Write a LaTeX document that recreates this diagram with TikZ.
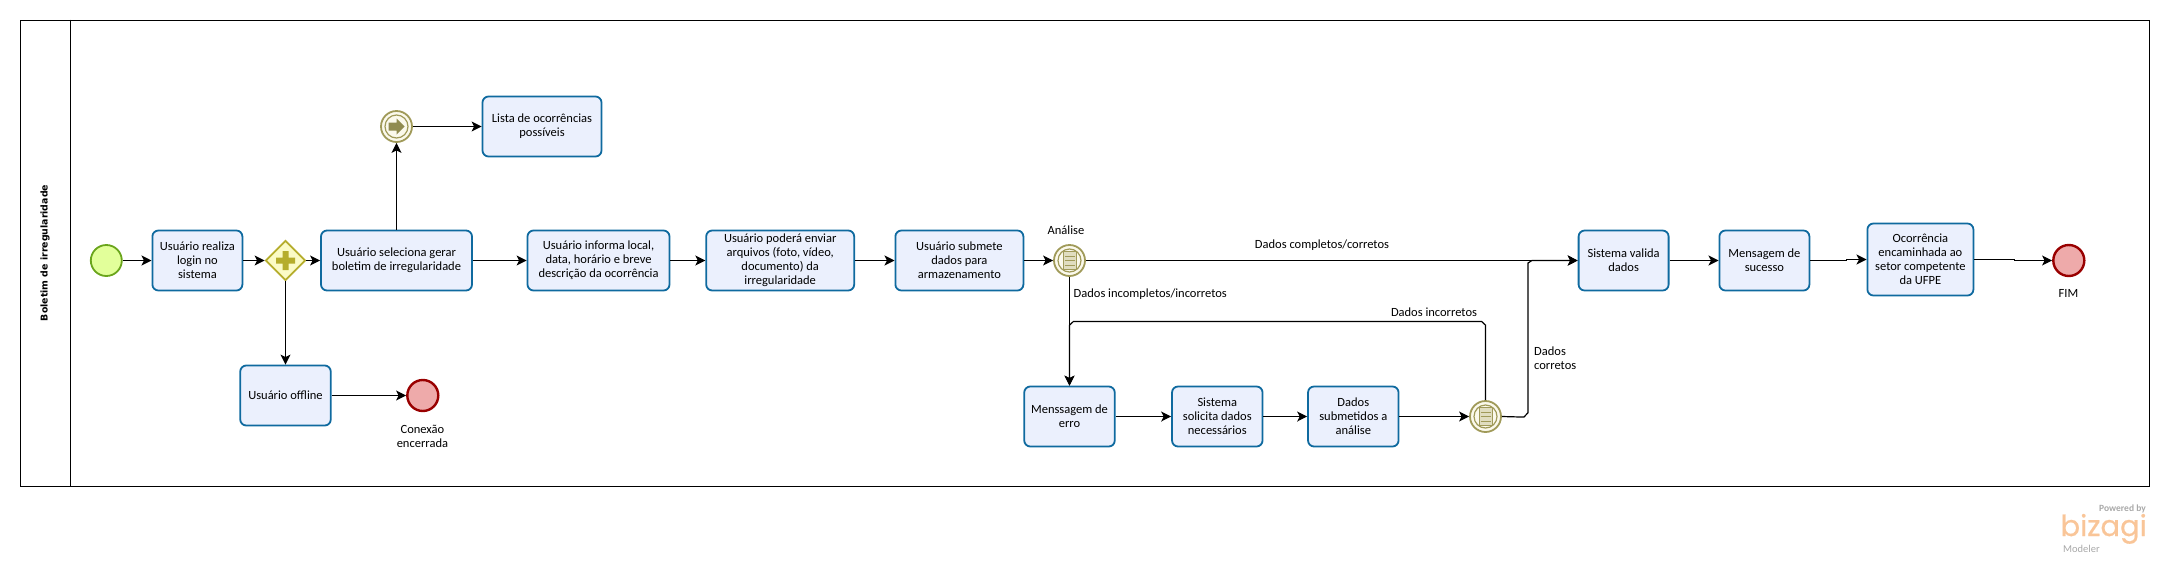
\documentclass[tikz,border=0pt]{standalone}
\usepackage{fontspec}
\setmainfont{Carlito}
\newfontfamily\titlefont{DejaVu Sans}
\newfontfamily\logofont[FakeBold=0.6]{Poppins}
\usetikzlibrary{shapes.geometric}
\usetikzlibrary{arrows.meta}
\definecolor{taskline}{HTML}{0F6A9F}
\definecolor{taskfill}{HTML}{EBF0FD}
\definecolor{startline}{HTML}{6AA51C}
\definecolor{startfill}{HTML}{E2FF9A}
\definecolor{endline}{HTML}{990000}
\definecolor{endfill}{HTML}{EEAAAA}
\definecolor{gateline}{HTML}{B5AD2C}
\definecolor{gatefill}{HTML}{FBFBC6}
\definecolor{midline}{HTML}{A09A59}
\definecolor{midfill}{HTML}{FBF9EC}
\definecolor{logoorange}{HTML}{F9C598}
\definecolor{logogray}{HTML}{A8A8A8}

\begin{document}
\begin{tikzpicture}[x=1pt,y=-1pt,>={Stealth[length=10pt,width=10pt,inset=2.5pt]}]

\tikzstyle{task}=[draw=taskline, fill=taskfill, line width=1.8pt, rounded corners=6pt, align=center, inner sep=0pt, minimum height=60pt, font=\fontsize{12.5}{14}\selectfont]
\tikzstyle{startev}=[circle, draw=startline, fill=startfill, line width=1.8pt, minimum size=31pt, inner sep=0pt]
\tikzstyle{endev}=[circle, draw=endline, fill=endfill, line width=2.4pt, minimum size=31pt, inner sep=0pt]
\tikzstyle{midev}=[circle, draw=midline, fill=midfill, line width=1.8pt, minimum size=31pt, inner sep=0pt]
\tikzstyle{gate}=[diamond, draw=gateline, fill=gatefill, line width=1.8pt, minimum width=40pt, minimum height=40pt, inner sep=0pt]
\tikzstyle{lbl}=[align=center, inner sep=0pt, font=\fontsize{12.5}{14}\selectfont]
\tikzstyle{flow}=[black, line width=1.2pt]

\useasboundingbox (0,0) rectangle (2169,579);

% pool
\node[draw, line width=1.2pt, minimum width=2129pt, minimum height=466pt, inner sep=0pt] (pool) at (1085,253.3) {};
\draw[line width=1.2pt] (70.7,0 |- pool.north) -- (70.7,0 |- pool.south);
\node[rotate=90, inner sep=0pt, font=\titlefont\bfseries\fontsize{9.4}{11}\selectfont] (title) at (45,253) {Boletim de irregularidade};

% top row
\node[startev] (start) at (106.3,260.5) {};
\node[task, minimum width=90pt] (login) at (197.4,260.5) {Usuário realiza\\login no\\sistema};
\node[gate] (gw) at (285.5,260.5) {};
\node[task, minimum width=151pt] (select) at (396.5,260.5) {Usuário seleciona gerar\\boletim de irregularidade};
\node[task, minimum width=142pt] (inform) at (598.5,260.5) {Usuário informa local,\\data, horário e breve\\descrição da ocorrência};
\node[task, minimum width=148pt] (upload) at (780.2,260.5) {Usuário poderá enviar\\arquivos (foto, vídeo,\\documento) da\\irregularidade};
\node[task, minimum width=128pt] (submit) at (959.4,260.5) {Usuário submete\\dados para\\armazenamento};
\node[midev] (evcheck) at (1069.5,260.5) {};
\node[task, minimum width=90pt] (valid) at (1623.6,260.5) {Sistema valida\\dados};
\node[task, minimum width=90pt] (success) at (1764.4,260.5) {Mensagem de\\sucesso};
\node[task, minimum width=106pt, minimum height=72pt] (forward) at (1920.4,259.5) {Ocorrência\\encaminhada ao\\setor competente\\da UFPE};
\node[endev] (fim) at (2068.8,260.5) {};

% above and below
\node[midev] (evlist) at (396.5,126.5) {};
\node[task, minimum width=119pt] (list) at (542,126.5) {Lista de ocorrências\\possíveis};
\node[task, minimum width=90.5pt] (offline) at (285.5,395.5) {Usuário offline};
\node[endev] (closed) at (422.8,395.5) {};
\node[task, minimum width=90.5pt] (error) at (1069.5,416.5) {Menssagem de\\erro};
\node[task, minimum width=90.5pt] (request) at (1217.3,416.5) {Sistema\\solicita dados\\necessários};
\node[task, minimum width=90.5pt] (resend) at (1353.3,416.5) {Dados\\submetidos a\\análise};
\node[midev] (evagain) at (1485.5,416.5) {};

% event marks
\foreach \ev in {evlist,evcheck,evagain}
	\draw[midline, line width=1.2pt] (\ev.center) circle (11.5);
\fill[midline!90!black] (evlist.center) ++(-8,-4) -- ++(8,0) -- ++(0,-4) -- ++(8,8) -- ++(-8,8) -- ++(0,-4) -- ++(-8,0) -- cycle;
\foreach \ev in {evcheck,evagain} {
	\draw[midline, fill=midfill!70!midline, line width=1pt] (\ev.center) ++(-6.5,-9) rectangle ++(13,18);
	\foreach \dy in {-4.5,0,4.5}
		\draw[midline, line width=1pt] (\ev.center) ++(-5,\dy) -- ++(10,0);
}
\fill[gateline] (gw.center) ++(-9.5,-3) -- ++(6.5,0) -- ++(0,-6.5) -- ++(6,0) -- ++(0,6.5) -- ++(6.5,0) -- ++(0,6) -- ++(-6.5,0) -- ++(0,6.5) -- ++(-6,0) -- ++(0,-6.5) -- ++(-6.5,0) -- cycle;

% labels
\node[lbl] (lblclosed) at (422.4,436) {Conexão\\encerrada};
\node[lbl] (lblcheck) at (1066,230) {Análise};
\node[lbl] (lblok) at (1322,245) {Dados completos/corretos};
\node[lbl, anchor=west] (lblbad) at (1073.5,294) {Dados incompletos/incorretos};
\node[lbl] (lblwrong) at (1434,312) {Dados incorretos};
\node[lbl, anchor=west, align=left] (lblright) at (1534,358) {Dados\\corretos};
\node[lbl] (lblfim) at (2068.5,293) {FIM};

% flows
\draw[flow,->] (start)--(login);
\draw[flow,->] (login)--(gw);
\draw[flow,->] (gw)--(select);
\draw[flow,->] (select)--(inform);
\draw[flow,->] (inform)--(upload);
\draw[flow,->] (upload)--(submit);
\draw[flow,->] (submit)--(evcheck);
\draw[flow,->] (evcheck)--(valid);
\draw[flow,->] (valid)--(success);
\draw[flow,->] (select)--(evlist);
\draw[flow,->] (evlist)--(list);
\draw[flow,->] (gw)--(offline);
\draw[flow,->] (offline)--(closed);
\draw[flow,->] (evcheck)--(error);
\draw[flow,->] (error)--(request);
\draw[flow,->] (request)--(resend);
\draw[flow,->] (resend)--(evagain);
\draw[flow,->] (success.east) -- ++(36,0) |- (forward.west);
\draw[flow,->] (forward.east) -- ++(40,0) |- (fim.west);
\draw[flow,->] (evagain.north) -- ++(0,-75) -- ++(-4,-3.7) -- ++(-408,0) -- ++(-4,3.7) -- (error.north);
\draw[flow,->] (evagain.east) -- ++(22,0.6) -- ++(4,-4.3) -- ++(0,-149.7) -- ++(4,-2.6) -- (valid.west);

% logo
\node[anchor=base east, inner sep=0pt, text=logoorange, font=\logofont\fontsize{29}{29}\selectfont] (bizagi) at (2147,536) {bizagi};
\node[anchor=east, inner sep=0pt, text=logogray, font=\bfseries\fontsize{9.5}{11}\selectfont] (powered) at (2146,509) {Powered by};
\node[anchor=west, inner sep=0pt, text=logogray, font=\fontsize{10.5}{12}\selectfont] (modeler) at (2063,549) {Modeler};
\end{tikzpicture}
\end{document}
